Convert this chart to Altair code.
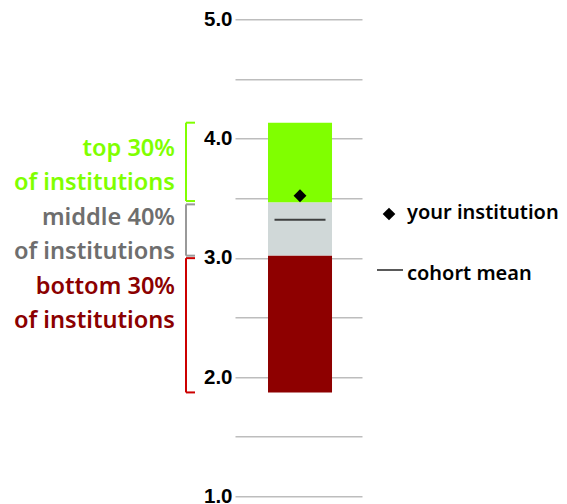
import altair as alt
import pandas as pd

# ---- data ----
segments = ["bottom 30%", "middle 40%", "top 30%"]
seg_low = [1.871, 3.020, 3.465]
seg_high = [3.020, 3.465, 4.133]
seg_colors = ["#8e0000", "#d0d8d8", "#80ff00"]

your_institution = [3.52]
cohort_mean = [3.32]

y_ticks = [1.0, 1.5, 2.0, 2.5, 3.0, 3.5, 4.0, 4.5, 5.0]

group_lines = [["top 30%", "of institutions"],
               ["middle 40%", "of institutions"],
               ["bottom 30%", "of institutions"]]
group_colors = ["#80ff00", "#6e6e6e", "#8b0000"]
bracket_low = [3.476, 3.018, 1.871]
bracket_high = [4.133, 3.448, 2.997]
bracket_colors = ["#80ff00", "#999999", "#cc0000"]

legend_labels = ["your institution", "cohort mean"]

# ---- tables ----
bars = pd.DataFrame({"cat": ["cohort"] * 3, "segment": segments,
                     "low": seg_low, "high": seg_high})
marker = pd.DataFrame({"cat": ["cohort"], "value": your_institution})
mean = pd.DataFrame({"cat": ["cohort"], "value": cohort_mean})
brackets = pd.DataFrame({"low": bracket_low, "high": bracket_high,
                         "color": bracket_colors})
bracket_ends = pd.DataFrame({"y": bracket_low + bracket_high,
                             "color": bracket_colors * 2})
one = pd.DataFrame({"a": [0]})

yscale = alt.Scale(domain=[1, 5], nice=False, zero=False)
xscale = alt.Scale(paddingInner=0, paddingOuter=0.492, align=0.524)

yaxis = alt.Axis(values=y_ticks, title=None, domain=False, ticks=False,
                 grid=True, gridColor="#bdbdbd", gridWidth=1.5,
                 labelExpr="datum.value % 1 == 0 ? format(datum.value, '.1f') : ''",
                 labelFont="Liberation Sans", labelFontWeight="bold",
                 labelFontSize=20.5, labelColor="black", labelPadding=3)

bar_layer = alt.Chart(bars).mark_bar().encode(
    x=alt.X("cat:N", scale=xscale, axis=None),
    y=alt.Y("low:Q", scale=yscale, axis=yaxis),
    y2="high:Q",
    color=alt.Color("segment:N", scale=alt.Scale(domain=segments, range=seg_colors),
                    legend=None),
)

mean_layer = alt.Chart(mean).mark_tick(size=51, thickness=2, color="black").encode(
    x=alt.X("cat:N", scale=xscale, axis=None),
    y=alt.Y("value:Q", scale=yscale),
)

marker_layer = alt.Chart(marker).mark_point(shape="diamond", filled=True, size=165,
                                            color="black", opacity=1).encode(
    x=alt.X("cat:N", scale=xscale, axis=None),
    y=alt.Y("value:Q", scale=yscale),
)

bracket_layer = alt.Chart(brackets).mark_rule(strokeWidth=2).encode(
    x=alt.value(-49),
    y=alt.Y("low:Q", scale=yscale),
    y2="high:Q",
    color=alt.Color("color:N", scale=None),
)

bracket_end_layer = alt.Chart(bracket_ends).mark_rule(strokeWidth=2).encode(
    x=alt.value(-49), x2=alt.value(-40),
    y=alt.Y("y:Q", scale=yscale),
    color=alt.Color("color:N", scale=None),
)

label_y = [136.4, 205.4, 274.4]
label_layers = []
for lines, col, yy in zip(group_lines, group_colors, label_y):
    label_layers.append(
        alt.Chart(one).mark_text(align="right", baseline="alphabetic", font="Noto Sans",
                                 fontWeight=600, fontSize=23.6, lineHeight=34.5,
                                 color=col).encode(
            x=alt.value(-60), y=alt.value(yy), text=alt.value(lines))
    )

legend_diamond = alt.Chart(one).mark_point(shape="diamond", filled=True, size=160,
                                           color="black", opacity=1).encode(
    x=alt.value(154), y=alt.value(194.7))
legend_line = alt.Chart(one).mark_rule(strokeWidth=1.5, color="#222222").encode(
    x=alt.value(142), x2=alt.value(168), y=alt.value(250.7))
legend_text1 = alt.Chart(one).mark_text(align="left", baseline="alphabetic",
                                        font="Noto Sans", fontWeight=600, fontSize=20,
                                        color="black").encode(
    x=alt.value(172), y=alt.value(200), text=alt.value(legend_labels[0]))
legend_text2 = alt.Chart(one).mark_text(align="left", baseline="alphabetic",
                                        font="Noto Sans", fontWeight=600, fontSize=20,
                                        color="black").encode(
    x=alt.value(172), y=alt.value(261), text=alt.value(legend_labels[1]))

chart = alt.layer(
    bar_layer, mean_layer, marker_layer, bracket_layer, bracket_end_layer,
    *label_layers, legend_diamond, legend_line, legend_text1, legend_text2,
).properties(
    width=127, height=477,
    padding={"left": 227, "top": 11.3, "right": 197, "bottom": 10},
    autosize=alt.AutoSizeParams(type="none"),
).configure_view(stroke=None)

chart.save("out.html", embed_options={"renderer": "svg", "actions": False})
